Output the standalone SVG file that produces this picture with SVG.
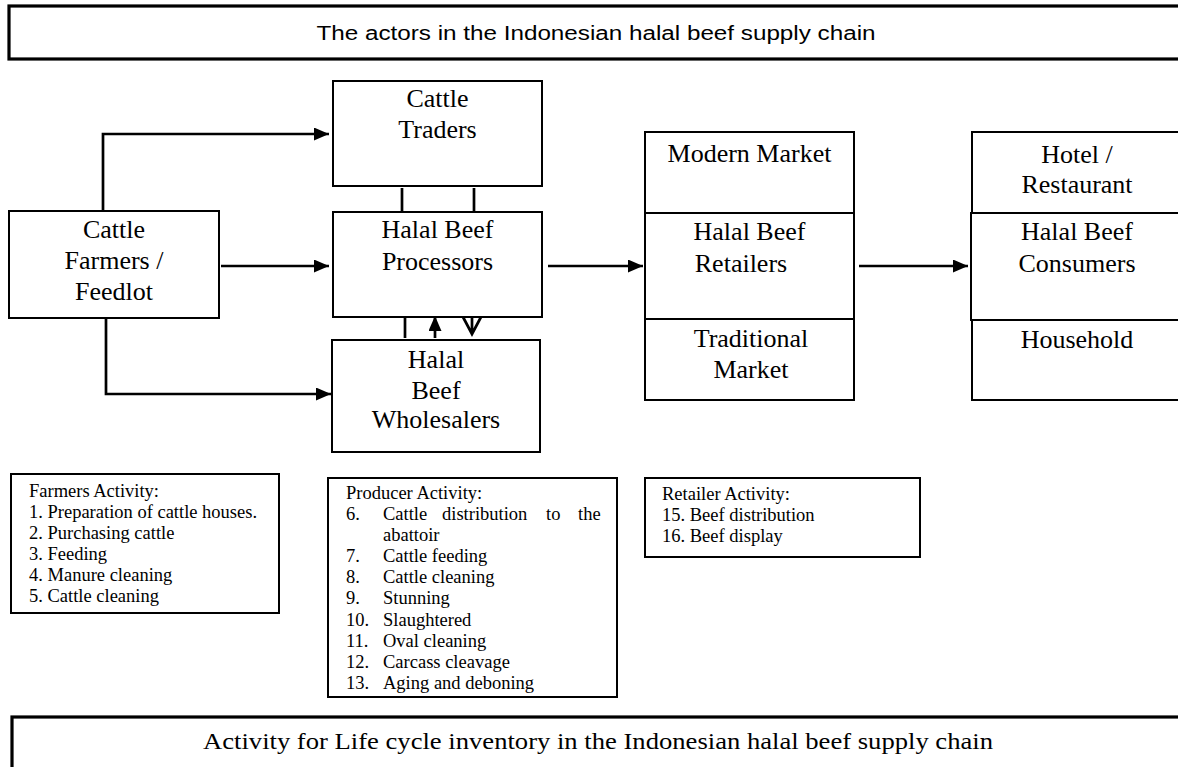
<svg xmlns="http://www.w3.org/2000/svg" width="1178" height="767" viewBox="0 0 1178 767">
<style>
.box{fill:#fff;stroke:#000;stroke-width:2}
.big{fill:#fff;stroke:#000;stroke-width:3.2}
.t{font-family:"Liberation Serif","Times New Roman",serif;font-size:26px;fill:#000;text-anchor:middle}
.s{font-family:"Liberation Serif","Times New Roman",serif;font-size:18.5px;fill:#000}
.c{fill:none;stroke:#000;stroke-width:2.7}
</style>
<defs>
<marker id="ah" markerUnits="userSpaceOnUse" markerWidth="16" markerHeight="14" refX="15" refY="6.5" orient="auto">
<path d="M0,0 L15,6.5 L0,13 z" fill="#000"/>
</marker>
</defs>
<rect width="1178" height="767" fill="#fff"/>
<g id="title-top">
<rect class="big" x="9" y="6" width="1180" height="53"/>
<text x="596" y="40" font-family="'Liberation Sans',Arial,sans-serif" font-size="20" text-anchor="middle" textLength="559" lengthAdjust="spacingAndGlyphs">The actors in the Indonesian halal beef supply chain</text>
</g>
<g id="traders">
<rect class="box" x="333" y="81" width="209" height="105"/>
<text class="t" x="437.5" y="107">Cattle</text>
<text class="t" x="437.5" y="138">Traders</text>
</g>
<g id="processors">
<rect class="box" x="333" y="212" width="209" height="105"/>
<text class="t" x="437.5" y="238">Halal Beef</text>
<text class="t" x="437.5" y="270">Processors</text>
</g>
<g id="farmers">
<rect class="box" x="9" y="211" width="210" height="107"/>
<text class="t" x="114" y="238">Cattle</text>
<text class="t" x="114" y="269">Farmers /</text>
<text class="t" x="114" y="300">Feedlot</text>
</g>
<g id="wholesalers">
<rect class="box" x="332" y="340" width="208" height="112"/>
<text class="t" x="436" y="368">Halal</text>
<text class="t" x="436" y="399">Beef</text>
<text class="t" x="436" y="428">Wholesalers</text>
</g>
<g id="retailers">
<rect class="box" x="645" y="132" width="209" height="81"/>
<rect class="box" x="645" y="213" width="209" height="106"/>
<rect class="box" x="645" y="319" width="209" height="81"/>
<text class="t" x="749.5" y="162">Modern Market</text>
<text class="t" x="749.5" y="240">Halal Beef</text>
<text class="t" x="741" y="272">Retailers</text>
<text class="t" x="751" y="347">Traditional</text>
<text class="t" x="751" y="378">Market</text>
</g>
<g id="consumers">
<rect class="box" x="972" y="132" width="212" height="81"/>
<rect class="box" x="971" y="213" width="213" height="107"/>
<rect class="box" x="972" y="320" width="212" height="80"/>
<text class="t" x="1077" y="163">Hotel /</text>
<text class="t" x="1077" y="193">Restaurant</text>
<text class="t" x="1077" y="240">Halal Beef</text>
<text class="t" x="1077" y="272">Consumers</text>
<text class="t" x="1077" y="348">Household</text>
</g>
<g id="connectors">
<path class="c" d="M103,211 V134 H329" marker-end="url(#ah)"/>
<path class="c" d="M221,266 H329" marker-end="url(#ah)"/>
<path class="c" d="M106,318 V394 H331" marker-end="url(#ah)"/>
<path class="c" d="M548,266 H643" marker-end="url(#ah)"/>
<path class="c" d="M859,266 H968" marker-end="url(#ah)"/>
<path class="c" d="M402,188 V211 M474,188 V211 M405,317 V338"/>
<path class="c" d="M435,338 V316" marker-end="url(#ah)"/>
<path class="c" d="M472,317 V334 M463,317 L472,334 L481,317"/>
</g>
<g id="farmers-activity">
<rect class="box" x="11" y="474" width="268" height="139"/>
<text class="s" x="29" y="497">Farmers Activity:</text>
<text class="s" x="29" y="518">1. Preparation of cattle houses.</text>
<text class="s" x="29" y="539">2. Purchasing cattle</text>
<text class="s" x="29" y="560">3. Feeding</text>
<text class="s" x="29" y="581">4. Manure cleaning</text>
<text class="s" x="29" y="602">5. Cattle cleaning</text>
</g>
<g id="producer-activity">
<rect class="box" x="328" y="478" width="289" height="219"/>
<text class="s" x="346" y="499">Producer Activity:</text>
<text class="s" y="520"><tspan x="346">6.</tspan><tspan x="383">Cattle</tspan><tspan x="442">distribution</tspan><tspan x="546">to</tspan><tspan x="578">the</tspan></text>
<text class="s" x="383" y="541">abattoir</text>
<text class="s" y="562"><tspan x="346">7.</tspan><tspan x="383">Cattle feeding</tspan></text>
<text class="s" y="583"><tspan x="346">8.</tspan><tspan x="383">Cattle cleaning</tspan></text>
<text class="s" y="604"><tspan x="346">9.</tspan><tspan x="383">Stunning</tspan></text>
<text class="s" y="626"><tspan x="346">10.</tspan><tspan x="383">Slaughtered</tspan></text>
<text class="s" y="647"><tspan x="346">11.</tspan><tspan x="383">Oval cleaning</tspan></text>
<text class="s" y="668"><tspan x="346">12.</tspan><tspan x="383">Carcass cleavage</tspan></text>
<text class="s" y="689"><tspan x="346">13.</tspan><tspan x="383">Aging and deboning</tspan></text>
</g>
<g id="retailer-activity">
<rect class="box" x="645" y="478" width="275" height="79"/>
<text class="s" x="662" y="500">Retailer Activity:</text>
<text class="s" x="662" y="521">15. Beef distribution</text>
<text class="s" x="662" y="542">16. Beef display</text>
</g>
<g id="title-bottom">
<rect class="big" x="12" y="717" width="1180" height="70"/>
<text x="598" y="749" font-family="'Liberation Serif','Times New Roman',serif" font-size="24" text-anchor="middle" textLength="790" lengthAdjust="spacingAndGlyphs">Activity for Life cycle inventory in the Indonesian halal beef supply chain</text>
</g>
</svg>
